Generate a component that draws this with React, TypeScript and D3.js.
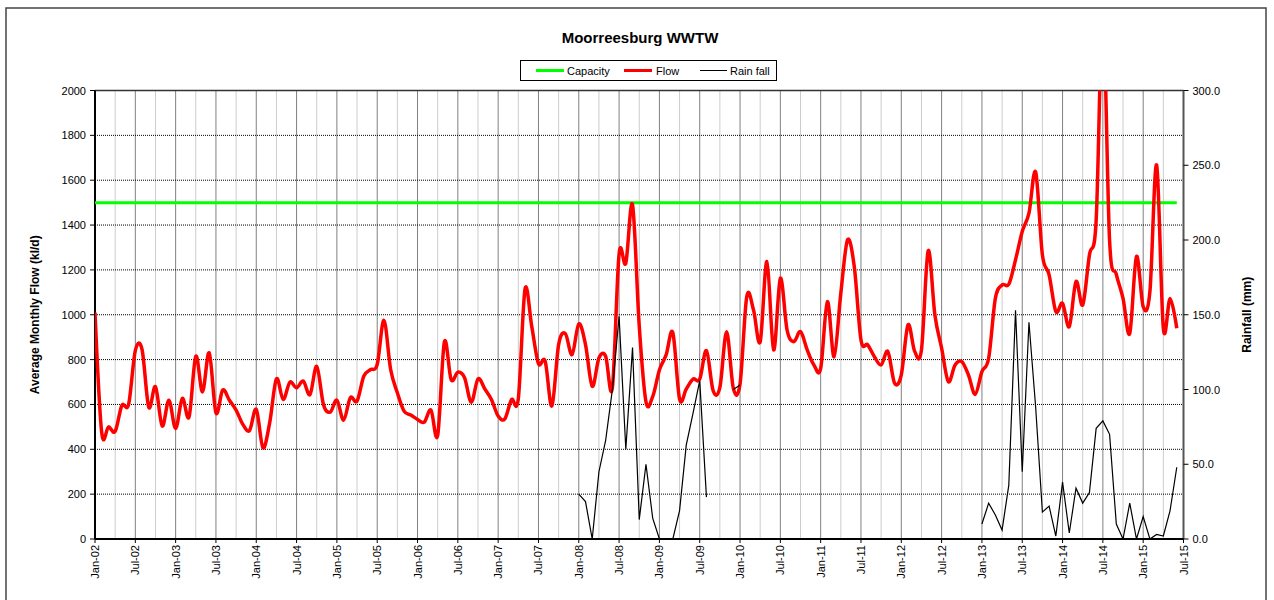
import * as d3 from "d3";

// monthly flow (kl/d), Jan-02 .. Jun-15
const flow2002 = [1010, 475, 500, 480, 596, 600, 840, 845, 588, 679, 504, 619];
const flow2003 = [493, 627, 545, 815, 656, 830, 563, 664, 619, 575, 511, 484];
const flow2004 = [578, 407, 519, 714, 622, 699, 674, 704, 644, 770, 600, 566];
const flow2005 = [619, 530, 630, 615, 726, 755, 778, 975, 756, 652, 570, 553];
const flow2006 = [533, 521, 575, 462, 879, 711, 744, 719, 610, 714, 670, 622];
const flow2007 = [548, 536, 622, 625, 1114, 948, 782, 793, 593, 867, 916, 822];
const flow2008 = [959, 867, 681, 807, 815, 674, 1271, 1230, 1490, 950, 612, 635];
const flow2009 = [754, 821, 920, 624, 669, 713, 713, 840, 661, 676, 924, 672];
const flow2010 = [691, 1081, 1022, 880, 1237, 843, 1163, 932, 880, 925, 843, 776];
const flow2011 = [761, 1059, 813, 1096, 1334, 1215, 888, 866, 813, 776, 836, 695];
const flow2012 = [732, 955, 836, 843, 1285, 999, 851, 702, 776, 791, 731, 645];
const flow2013 = [746, 806, 1073, 1133, 1136, 1245, 1371, 1453, 1636, 1267, 1178, 1014];
const flow2014 = [1051, 947, 1148, 1044, 1267, 1420, 2350, 1330, 1180, 1073, 917, 1260];
const flow2015 = [1036, 1103, 1668, 940, 1073, 940];

const flow = [
  ...flow2002, ...flow2003, ...flow2004, ...flow2005, ...flow2006, ...flow2007,
  ...flow2008, ...flow2009, ...flow2010, ...flow2011, ...flow2012, ...flow2013,
  ...flow2014, ...flow2015,
];

const capacity = 1500;

// rainfall (mm), only some months recorded; start = month index from Jan-02
const rainA = { start: 72, values: [30, 25, 0, 45, 66, 100, 149, 60, 128, 13, 50, 14, 0, 0, 0, 19, 63, 84, 106, 28] };
const rainB = { start: 95, values: [100, 103] };
const rainC = {
  start: 132,
  values: [10, 24, 16, 6, 36, 153, 45, 145, 88, 18, 22, 2, 38, 4, 34, 24, 31, 74, 79, 70, 10, 0, 24, 0, 15, 0, 3, 2, 19, 48],
};

const xLabels = [
  "Jan-02", "Jul-02", "Jan-03", "Jul-03", "Jan-04", "Jul-04", "Jan-05", "Jul-05",
  "Jan-06", "Jul-06", "Jan-07", "Jul-07", "Jan-08", "Jul-08", "Jan-09", "Jul-09",
  "Jan-10", "Jul-10", "Jan-11", "Jul-11", "Jan-12", "Jul-12", "Jan-13", "Jul-13",
  "Jan-14", "Jul-14", "Jan-15", "Jul-15",
];
const leftTicks = [0, 200, 400, 600, 800, 1000, 1200, 1400, 1600, 1800, 2000];
const rightTicks = [0, 50, 100, 150, 200, 250, 300];

const FONT = "Arial, 'Liberation Sans', sans-serif";

export default function App() {
  const left = 95, right = 1183.5, top = 90.5, bottom = 539;
  const nMonths = (xLabels.length - 1) * 6;

  const x = d3.scaleLinear().domain([0, nMonths]).range([left, right]);
  const y = d3.scaleLinear().domain([0, 2000]).range([bottom, top]);
  const yr = d3.scaleLinear().domain([0, 300]).range([bottom, top]);

  const flowLine = d3
    .line<number>()
    .x((_, i) => x(i))
    .y((d) => y(d))
    .curve(d3.curveCatmullRom.alpha(0));

  const rainLine = d3
    .line<[number, number]>()
    .x((d) => x(d[0]))
    .y((d) => yr(d[1]));

  const rainSegs = [rainA, rainB, rainC].map((s) =>
    s.values.map((v, k) => [s.start + k, v] as [number, number])
  );

  const quarterLines = d3.range(0, nMonths + 1, 3);

  return (
    <svg
      width={1274}
      height={600}
      style={{ position: "absolute", left: 0, top: 0, background: "#fff" }}
      fontFamily={FONT}
    >
      <defs>
        <clipPath id="plot">
          <rect x={left} y={top} width={right - left} height={bottom - top} />
        </clipPath>
      </defs>
      <rect x={6} y={8} width={1260} height={600} fill="#fff" stroke="#444" strokeWidth={1.5} />

      <text x={640} y={43} textAnchor="middle" fontSize={15} fontWeight="bold">
        Moorreesburg WWTW
      </text>

      {/* legend */}
      <g fontSize={11}>
        <rect x={520.5} y={60.5} width={256} height={20} fill="#fff" stroke="#000" strokeWidth={1} />
        <line x1={536} x2={564} y1={70.5} y2={70.5} stroke="#00ff00" strokeWidth={3} />
        <text x={567} y={74.5}>Capacity</text>
        <line x1={624} x2={652} y1={70.5} y2={70.5} stroke="#ff0000" strokeWidth={3} />
        <text x={656} y={74.5}>Flow</text>
        <line x1={700} x2={727} y1={70.5} y2={70.5} stroke="#000" strokeWidth={1} />
        <text x={730} y={74.5}>Rain fall</text>
      </g>

      {/* grid */}
      <g strokeDasharray="1,1" strokeWidth={1}>
        {quarterLines.map((m) => (
          <line
            key={"v" + m}
            x1={x(m)}
            x2={x(m)}
            y1={top}
            y2={bottom}
            stroke={m % 6 === 0 ? "#000" : "#999"}
          />
        ))}
        {leftTicks.map((t) => (
          <line key={"h" + t} x1={left} x2={right} y1={y(t)} y2={y(t)} stroke="#000" />
        ))}
      </g>

      {/* axes */}
      <line x1={left} x2={right} y1={top} y2={top} stroke="#333" strokeWidth={1.5} />
      <line x1={right} x2={right} y1={top} y2={bottom} stroke="#555" strokeWidth={2} />
      <line x1={left} x2={left} y1={top} y2={bottom} stroke="#000" strokeWidth={2} />
      <line x1={left} x2={right} y1={bottom} y2={bottom} stroke="#000" strokeWidth={2} />

      <g fontSize={11} fill="#000">
        {leftTicks.map((t) => (
          <g key={"lt" + t}>
            <line x1={left - 5} x2={left} y1={y(t)} y2={y(t)} stroke="#000" />
            <text x={left - 9} y={y(t) + 4} textAnchor="end">
              {t}
            </text>
          </g>
        ))}
        {rightTicks.map((t) => (
          <g key={"rt" + t}>
            <line x1={right} x2={right + 5} y1={yr(t)} y2={yr(t)} stroke="#000" />
            <text x={right + 9} y={yr(t) + 4}>
              {t.toFixed(1)}
            </text>
          </g>
        ))}
        {xLabels.map((lab, k) => {
          const px = x(k * 6);
          return (
            <g key={lab}>
              <line x1={px} x2={px} y1={bottom} y2={bottom + 4} stroke="#000" />
              <text
                transform={`translate(${px + 4},${bottom + 6}) rotate(-90)`}
                textAnchor="end"
              >
                {lab}
              </text>
            </g>
          );
        })}
      </g>

      <text
        transform={`translate(39,${(top + bottom) / 2}) rotate(-90)`}
        textAnchor="middle"
        fontSize={12}
        fontWeight="bold"
      >
        Average Monthly Flow (kl/d)
      </text>
      <text
        transform={`translate(1251,${(top + bottom) / 2}) rotate(-90)`}
        textAnchor="middle"
        fontSize={12}
        fontWeight="bold"
      >
        Rainfall (mm)
      </text>

      {/* series */}
      <g clipPath="url(#plot)">
        <line
          x1={x(0)}
          x2={x(flow.length - 1)}
          y1={y(capacity)}
          y2={y(capacity)}
          stroke="#00ff00"
          strokeWidth={3}
        />
        <path d={flowLine(flow) || ""} fill="none" stroke="#ff0000" strokeWidth={3.5} />
        {rainSegs.map((seg, k) => (
          <path key={k} d={rainLine(seg) || ""} fill="none" stroke="#000" strokeWidth={1.2} />
        ))}
      </g>
    </svg>
  );
}
